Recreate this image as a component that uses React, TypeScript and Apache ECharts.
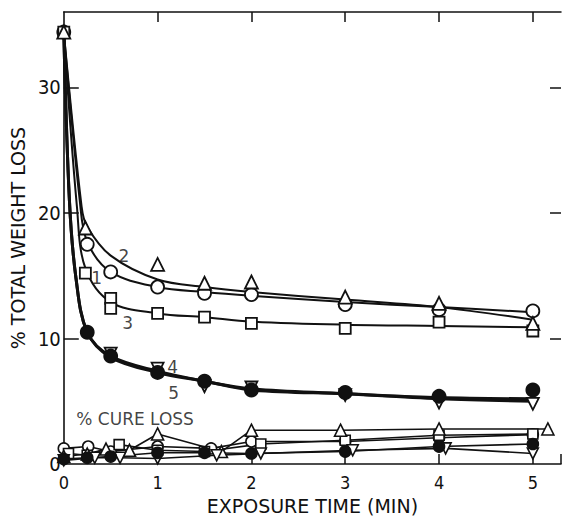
import React, { useEffect, useRef } from "react";
import * as echarts from "echarts";

const INK = "#111111";
const FONT = "'DejaVu Sans', sans-serif";
const NUM_FONT = "'DejaVu Sans Condensed', 'DejaVu Sans', sans-serif";

// Fitted curves (% total weight loss)
const curve1X = [0, 0.17, 0.25, 0.5, 1, 1.5, 2, 3, 4, 5];
const curve1Y = [34.4, 21, 17.7, 15.3, 14.1, 13.7, 13.4, 12.9, 12.5, 12.1];
const curve2X = [0, 0.19, 0.25, 0.5, 1, 1.5, 2, 3, 4, 5];
const curve2Y = [34.4, 20.5, 18.9, 16.6, 14.7, 14.1, 13.7, 13.1, 12.5, 11.5];
const curve3X = [0, 0.14, 0.23, 0.5, 1, 1.5, 2, 3, 4, 5];
const curve3Y = [34.4, 20.5, 15.6, 12.9, 12.0, 11.7, 11.35, 11.1, 11.0, 10.9];
const curve4X = [0, 0.06, 0.13, 0.25, 0.5, 1, 1.5, 2, 3, 4, 5];
const curve4Y = [34.4, 21, 14.8, 10.5, 8.6, 7.4, 6.6, 6.0, 5.6, 5.2, 5.0];
const curve5X = [0, 0.06, 0.13, 0.25, 0.5, 1, 1.5, 2, 3, 4, 5];
const curve5Y = [34.4, 21, 14.8, 10.5, 8.5, 7.3, 6.6, 5.9, 5.6, 5.3, 5.2];

// Measured points (% total weight loss)
const triX = [0, 0.23, 1.0, 1.5, 2, 3, 4, 5];
const triY = [34.4, 18.8, 15.9, 14.4, 14.5, 13.3, 12.8, 11.2];
const circX = [0, 0.25, 0.5, 1, 1.5, 2, 3, 4, 5];
const circY = [34.4, 17.5, 15.3, 14.1, 13.6, 13.5, 12.7, 12.3, 12.2];
const sqX = [0, 0.23, 0.5, 0.5, 1, 1.5, 2, 3, 4, 5];
const sqY = [34.4, 15.2, 13.2, 12.4, 12.0, 11.7, 11.2, 10.8, 11.3, 10.6];
const fillX = [0.25, 0.5, 1, 1.5, 2, 3, 4, 5];
const fillY = [10.5, 8.6, 7.3, 6.6, 5.9, 5.7, 5.4, 5.9];
const invX = [0.5, 1, 1.5, 2, 3, 4, 5];
const invY = [8.8, 7.6, 6.2, 6.1, 5.5, 4.9, 4.8];

// % cure loss
const cureTriX = [0, 0.25, 0.45, 0.7, 1, 1.68, 2, 2.95, 4, 5.16];
const cureTriY = [0.6, 0.8, 1.2, 1.1, 2.4, 1.0, 2.7, 2.7, 2.8, 2.8];
const cureCircX = [0, 0.26, 0.5, 1, 1.57, 2, 3, 4, 5];
const cureCircY = [1.25, 1.4, 1.0, 1.4, 1.25, 1.8, 1.8, 2.1, 2.35];
const cureSqX = [0.05, 0.25, 0.59, 1, 1.5, 2.1, 3, 4, 5];
const cureSqY = [0.85, 0.7, 1.55, 1.1, 1.0, 1.6, 1.9, 2.3, 2.4];
const cureFillX = [0, 0.25, 0.5, 1, 1.5, 2, 3, 4, 5];
const cureFillY = [0.4, 0.5, 0.6, 0.9, 0.9, 0.85, 1.0, 1.4, 1.6];
const cureInvX = [0, 0.33, 0.6, 1, 1.63, 2.1, 3.08, 4.07, 5];
const cureInvY = [0.3, 0.5, 0.5, 0.45, 0.7, 0.85, 1.1, 1.25, 0.85];

// Text annotations placed in data coordinates
const noteText = ["2", "1", "3", "4", "5", "% CURE LOSS"];
const noteX = [0.64, 0.35, 0.68, 1.16, 1.17, 0.76];
const noteY = [16.6, 14.8, 11.2, 7.7, 5.7, 3.6];
const noteSize = [17, 17, 17, 17, 17, 17];

const pts = (xs: number[], ys: number[]) => xs.map((x, i) => [x, ys[i]]);

function curve(xs: number[], ys: number[], width: number) {
  return {
    type: "line",
    data: pts(xs, ys),
    smooth: 0.35,
    symbol: "none",
    showSymbol: false,
    lineStyle: { color: INK, width },
    z: 2,
    silent: true,
  };
}

function marks(xs: number[], ys: number[], symbol: string, filled: boolean, rotate = 0, size = 12) {
  return {
    type: "scatter",
    data: pts(xs, ys),
    symbol,
    symbolSize: size,
    symbolRotate: rotate,
    itemStyle: { color: filled ? INK : "#ffffff", borderColor: INK, borderWidth: 1.8, opacity: 1 },
    z: 3,
    silent: true,
  };
}

function cure(xs: number[], ys: number[], symbol: string, filled: boolean, rotate = 0, size = 11) {
  return {
    type: "line",
    data: pts(xs, ys),
    symbol,
    symbolSize: size,
    symbolRotate: rotate,
    showSymbol: true,
    showAllSymbol: true,
    lineStyle: { color: INK, width: 1.6 },
    itemStyle: { color: filled ? INK : "#ffffff", borderColor: INK, borderWidth: 1.6, opacity: 1 },
    z: 3,
    silent: true,
  };
}

export default function App() {
  const ref = useRef<HTMLDivElement>(null);
  useEffect(() => {
    if (!ref.current) return;
    const chart = echarts.init(ref.current, undefined, { renderer: "svg" });
    const tickStyle = { color: INK, width: 1.5 };
    chart.setOption({
      animation: false,
      backgroundColor: "#ffffff",
      grid: { left: 58, right: 0, top: 12, bottom: 47, containLabel: false },
      xAxis: [
        {
          type: "value",
          min: 0,
          max: 5.3,
          interval: 1,
          axisLine: { onZero: false, lineStyle: { color: INK, width: 1.6 } },
          axisTick: { inside: true, length: 10, lineStyle: tickStyle },
          axisLabel: {
            color: INK,
            fontSize: 18,
            fontFamily: NUM_FONT,
            margin: 9,
            formatter: (v: number) => (Math.abs(v - Math.round(v)) < 1e-6 ? String(Math.round(v)) : ""),
          },
          splitLine: { show: false },
          name: "EXPOSURE TIME (MIN)",
          nameLocation: "middle",
          nameGap: 31,
          nameTextStyle: { color: INK, fontSize: 19, fontFamily: FONT },
        },
        {
          type: "value",
          position: "top",
          min: 0,
          max: 5.3,
          interval: 1,
          axisLine: { show: true, onZero: false, lineStyle: { color: INK, width: 1.5 } },
          axisTick: { inside: true, length: 10, lineStyle: tickStyle, customValues: [1, 2, 3, 4, 5] },
          axisLabel: { show: false },
          splitLine: { show: false },
        },
      ],
      yAxis: [
        {
          type: "value",
          min: 0,
          max: 36,
          interval: 10,
          axisLine: { show: true, onZero: false, lineStyle: { color: INK, width: 1.6 } },
          axisTick: {
            show: true,
            inside: true,
            length: 15,
            lineStyle: tickStyle,
            customValues: [10, 20, 30],
          },
          axisLabel: {
            color: INK,
            fontSize: 20,
            fontFamily: NUM_FONT,
            margin: 3,
            formatter: (v: number) => (v % 10 === 0 ? String(v) : ""),
          },
          splitLine: { show: false },
          name: "% TOTAL WEIGHT LOSS",
          nameLocation: "middle",
          nameGap: 31,
          nameRotate: 90,
          nameTextStyle: { color: INK, fontSize: 19, fontFamily: FONT },
        },
        {
          type: "value",
          position: "right",
          min: 0,
          max: 36,
          interval: 10,
          axisLine: { show: true, onZero: false, lineStyle: { color: "rgba(0,0,0,0)", width: 1 } },
          axisTick: { show: true, inside: true, length: 11, lineStyle: tickStyle, customValues: [10, 20, 30] },
          axisLabel: { show: false },
          splitLine: { show: false },
        },
      ],
      series: [
        curve(curve1X, curve1Y, 2),
        curve(curve2X, curve2Y, 2),
        curve(curve3X, curve3Y, 2),
        curve(curve4X, curve4Y, 3),
        curve(curve5X, curve5Y, 3),
        marks(circX, circY, "circle", false, 0, 13),
        marks(sqX, sqY, "rect", false, 0, 11),
        marks(triX, triY, "triangle", false, 0, 13),
        marks(invX, invY, "triangle", false, 180, 12),
        marks(fillX, fillY, "circle", true, 0, 13),
        cure(cureCircX, cureCircY, "circle", false),
        cure(cureSqX, cureSqY, "rect", false, 0, 10),
        cure(cureTriX, cureTriY, "triangle", false, 0, 12),
        cure(cureInvX, cureInvY, "triangle", false, 180, 11),
        cure(cureFillX, cureFillY, "circle", true),
        {
          type: "scatter",
          symbolSize: 0,
          silent: true,
          z: 5,
          itemStyle: { color: "rgba(0,0,0,0)" },
          data: noteText.map((t, i) => ({
            name: t,
            value: [noteX[i], noteY[i]],
            label: { fontSize: noteSize[i] },
          })),
          label: {
            show: true,
            position: "inside",
            formatter: "{b}",
            color: INK,
            textBorderWidth: 0,
            textBorderColor: "transparent",
            fontSize: 17,
            fontFamily: FONT,
          },
        },
      ],
    });
    return () => chart.dispose();
  }, []);
  return (
    <div
      ref={ref}
      style={{ position: "fixed", left: 0, top: 0, width: 564, height: 520, background: "#fff" }}
    />
  );
}
